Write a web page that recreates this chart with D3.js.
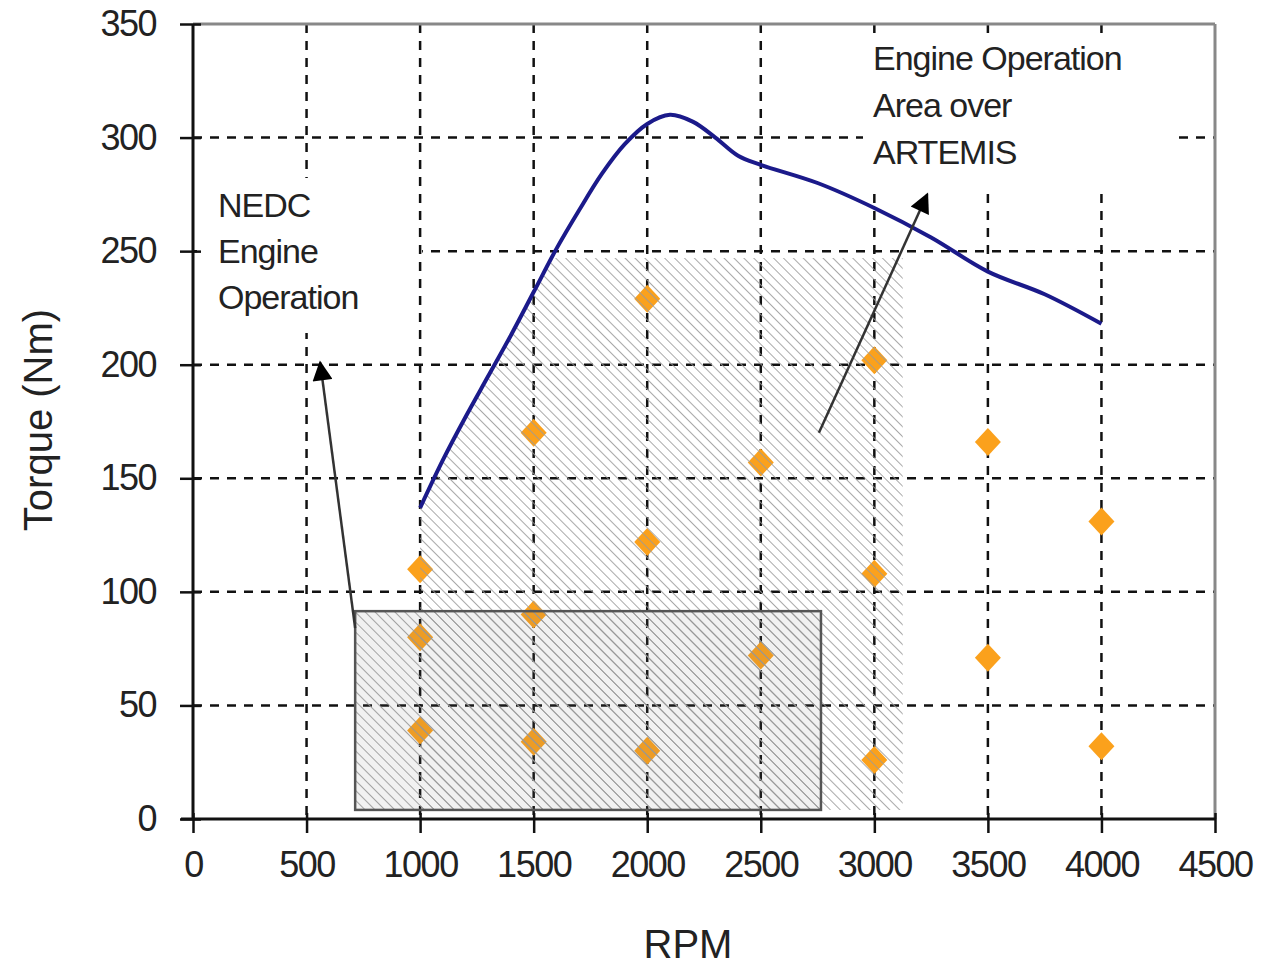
<!DOCTYPE html>
<html><head><meta charset="utf-8">
<script src="https://cdn.jsdelivr.net/npm/d3@7"></script>
<style>body{margin:0;background:#fff}svg{display:block}text{font-family:"Liberation Sans",Arial,sans-serif;fill:#222}</style>
</head><body><svg id="c" width="1268" height="965"></svg>
<script>
// ---- data ----
const xTicks = [0,500,1000,1500,2000,2500,3000,3500,4000,4500];
const yTicks = [0,50,100,150,200,250,300,350];
const torqueCurve = [[1000,137],[1100,158],[1200,177],[1300,195],[1400,213],[1500,232],[1600,251],[1700,268],[1800,284],[1900,297],[2000,306],[2100,310],[2200,307],[2300,300],[2400,292],[2500,288],[2750,280],[3000,269],[3250,256],[3500,241],[3750,231],[4000,218]];
const opRpm    = [1000,1000,1000,1500,1500,1500,2000,2000,2000,2500,2500,3000,3000,3000,3500,3500,4000,4000];
const opTorque = [110,80,39,170,90,34,229,122,30,157,72,202,108,26,166,71,131,32];
const artemisArea = [[1000,4],[1000,137],[1100,158],[1200,177],[1300,195],[1400,213],[1500,232],[1580,247],[3125,247],[3125,4]];
const nedcBox = {rpm:[714,2765], torque:[4,91.5]};
const arrows = [{from:[714,84],to:[560,201]},{from:[2756,170],to:[3233,275]}];
const labelNEDC = ["NEDC","Engine","Operation"];
const labelArtemis = ["Engine Operation","Area over","ARTEMIS"];

const svg = d3.select("#c");
const x = d3.scaleLinear().domain([0,4500]).range([193,1215]);
const y = d3.scaleLinear().domain([0,350]).range([819,24]);

const defs = svg.append("defs");
const pat = defs.append("pattern").attr("id","hatch").attr("width",7).attr("height",7)
  .attr("patternUnits","userSpaceOnUse").attr("patternTransform","rotate(-45)");
pat.append("line").attr("x1",0).attr("y1",0).attr("x2",0).attr("y2",7).attr("stroke","#9a9a9a").attr("stroke-width",2);
const arrowM = defs.append("marker").attr("id","ah").attr("viewBox","0 0 10 10").attr("refX",9).attr("refY",5)
  .attr("markerWidth",9).attr("markerHeight",8).attr("markerUnits","strokeWidth").attr("orient","auto");
arrowM.append("path").attr("d","M0,0L10,5L0,10Z").attr("fill","#000");

const dash = "9,8";
// horizontal grid
svg.append("g").selectAll("line").data(yTicks.filter(d=>d>0&&d<350)).join("line")
  .attr("x1",x(0)).attr("x2",x(4500)).attr("y1",d=>y(d)).attr("y2",d=>y(d))
  .attr("stroke","#111").attr("stroke-width",2.5).attr("stroke-dasharray",dash);
// vertical grid 500
svg.append("line").attr("x1",x(500)).attr("x2",x(500)).attr("y1",y(350)).attr("y2",y(0))
  .attr("stroke","#111").attr("stroke-width",2.5).attr("stroke-dasharray",dash);
// white box behind NEDC label
svg.append("rect").attr("x",x(0)+4).attr("y",178).attr("width",x(1000)-x(0)-2).attr("height",155).attr("fill","#fff");
// other vertical grid
svg.append("g").selectAll("line").data(xTicks.filter(d=>d>500&&d<4500)).join("line")
  .attr("x1",d=>x(d)).attr("x2",d=>x(d)).attr("y1",y(350)).attr("y2",y(0))
  .attr("stroke","#111").attr("stroke-width",2.5).attr("stroke-dasharray",dash);
// white box behind ARTEMIS label
svg.append("rect").attr("x",863).attr("y",33).attr("width",310).attr("height",155).attr("fill","#fff");

// operating points
const pts = opRpm.map((r,i)=>[r,opTorque[i]]);
svg.append("g").selectAll("path").data(pts).join("path")
  .attr("d",d=>{const cx=x(d[0]),cy=y(d[1]);return `M${cx},${cy-14}L${cx+13},${cy}L${cx},${cy+14}L${cx-13},${cy}Z`;})
  .attr("fill","#fba11c");

// hatched ARTEMIS area
svg.append("path").attr("d",d3.line().x(d=>x(d[0])).y(d=>y(d[1]))(artemisArea)+"Z")
  .attr("fill","url(#hatch)").attr("opacity",0.85);
// NEDC box
const nb = svg.append("g");
nb.append("rect").attr("x",x(nedcBox.rpm[0])).attr("y",y(nedcBox.torque[1]))
  .attr("width",x(nedcBox.rpm[1])-x(nedcBox.rpm[0])).attr("height",y(nedcBox.torque[0])-y(nedcBox.torque[1]))
  .attr("fill","url(#hatch)").attr("opacity",0.85);
nb.append("rect").attr("x",x(nedcBox.rpm[0])).attr("y",y(nedcBox.torque[1]))
  .attr("width",x(nedcBox.rpm[1])-x(nedcBox.rpm[0])).attr("height",y(nedcBox.torque[0])-y(nedcBox.torque[1]))
  .attr("fill","rgba(120,120,120,0.10)").attr("stroke","#555").attr("stroke-width",2.5);

// torque curve
svg.append("path").attr("d",d3.line().x(d=>x(d[0])).y(d=>y(d[1])).curve(d3.curveCatmullRom)(torqueCurve))
  .attr("fill","none").attr("stroke","#1b1a8a").attr("stroke-width",4);

// arrows
svg.append("g").selectAll("line").data(arrows).join("line")
  .attr("x1",d=>x(d.from[0])).attr("y1",d=>y(d.from[1])).attr("x2",d=>x(d.to[0])).attr("y2",d=>y(d.to[1]))
  .attr("stroke","#333").attr("stroke-width",2.5).attr("marker-end","url(#ah)");

// frame top/right
svg.append("line").attr("x1",x(0)).attr("x2",x(4500)).attr("y1",y(350)).attr("y2",y(350)).attr("stroke","#888").attr("stroke-width",3);
svg.append("line").attr("x1",x(4500)).attr("x2",x(4500)).attr("y1",y(350)).attr("y2",y(0)).attr("stroke","#888").attr("stroke-width",3);

// axes
const fmt = d3.format("d");
const xa = svg.append("g").attr("transform",`translate(0,${y(0)})`)
  .call(d3.axisBottom(x).tickValues(xTicks).tickFormat(fmt).tickSize(14).tickSizeOuter(0).tickPadding(18));
xa.selectAll(".tick line").attr("y1",-6).attr("stroke","#111").attr("stroke-width",2.5);
xa.select(".domain").attr("stroke","#111").attr("stroke-width",3).attr("d",`M${x(0)-12},0H${x(4500)}`);
xa.selectAll("text").attr("font-size",36).attr("letter-spacing","-1.5").attr("fill","#222").attr("font-family","Liberation Sans, Arial");
const ya = svg.append("g").attr("transform",`translate(${x(0)},0)`)
  .call(d3.axisLeft(y).tickValues(yTicks).tickFormat(fmt).tickSize(13).tickSizeOuter(0).tickPadding(24));
ya.selectAll(".tick line").attr("x1",8).attr("stroke","#111").attr("stroke-width",2.5);
ya.select(".domain").attr("stroke","#111").attr("stroke-width",3).attr("d",`M0,${y(0)}V${y(350)}`);
ya.selectAll("text").attr("font-size",36).attr("letter-spacing","-1.5").attr("fill","#222").attr("font-family","Liberation Sans, Arial");

// axis titles
svg.append("text").attr("x",688).attr("y",958).attr("text-anchor","middle").attr("font-size",40).text("RPM");
svg.append("text").attr("transform","translate(52,420) rotate(-90)").attr("text-anchor","middle").attr("font-size",40).text("Torque (Nm)");

// labels
svg.append("g").selectAll("text").data(labelNEDC).join("text")
  .attr("x",218).attr("y",(d,i)=>217+i*46).attr("font-size",34).attr("letter-spacing","-1").text(d=>d);
svg.append("g").selectAll("text").data(labelArtemis).join("text")
  .attr("x",873).attr("y",(d,i)=>70+i*47).attr("font-size",34).attr("letter-spacing","-1").text(d=>d);
</script></body></html>
